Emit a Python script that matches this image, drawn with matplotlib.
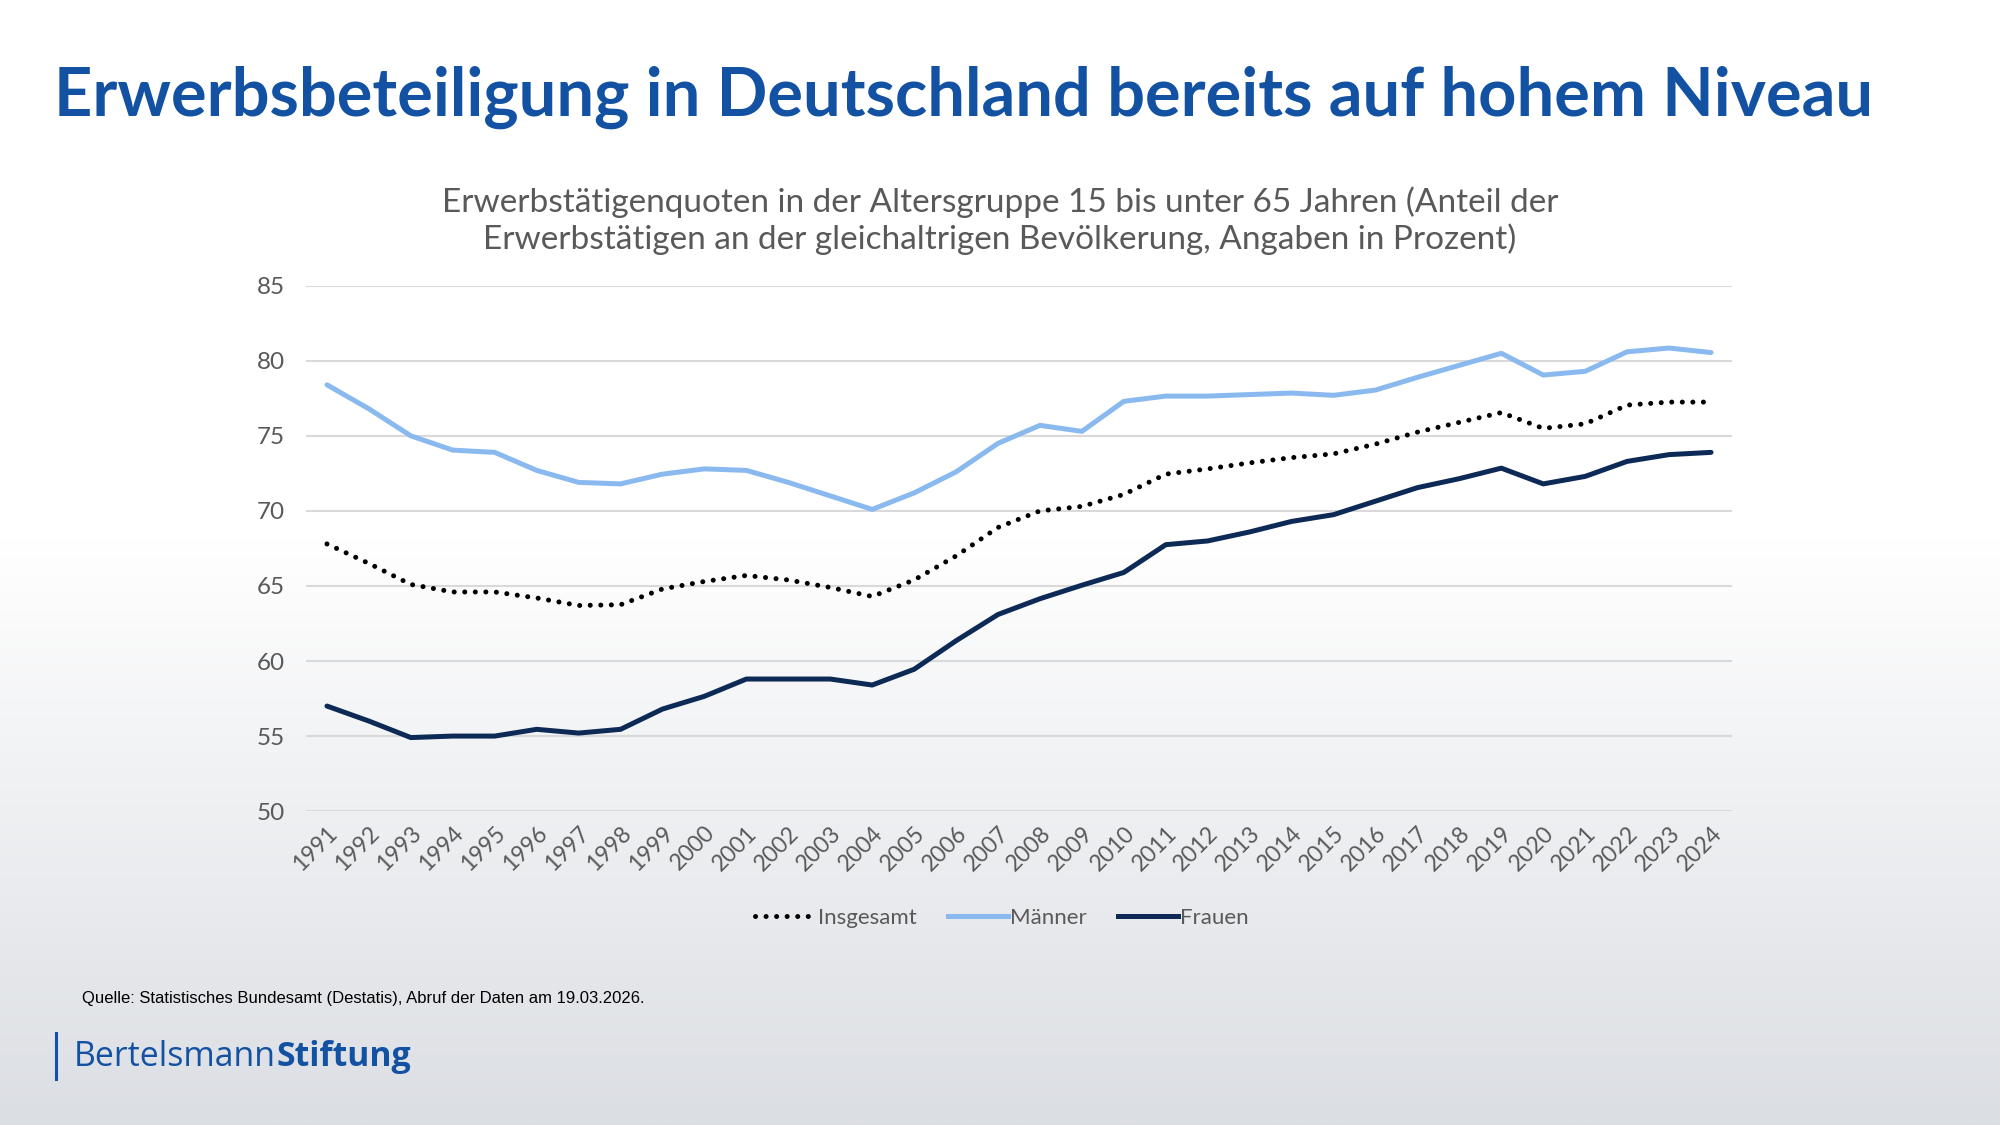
"""
Erwerbstätigenquoten 15-64 Jahre, Deutschland 1991-2024
Output : out.png (2000x1125)
"""

import numpy as np
import matplotlib
matplotlib.use("Agg")
import matplotlib.pyplot as plt
from matplotlib.lines import Line2D

# ── data ──────────────────────────────────────────────────────────────────────
YEARS = [str(y) for y in range(1991, 2025)]

INSGESAMT = [67.8, 66.5, 65.1, 64.6, 64.6, 64.2, 63.7, 63.75, 64.8, 65.3,
             65.7, 65.4, 64.9, 64.3, 65.4, 67.0, 68.9, 70.0, 70.3, 71.1,
             72.45, 72.8, 73.2, 73.55, 73.8, 74.45, 75.25, 75.9, 76.55, 75.5,
             75.8, 77.05, 77.25, 77.25]
MAENNER   = [78.4, 76.8, 75.0, 74.05, 73.9, 72.7, 71.9, 71.8, 72.45, 72.8,
             72.7, 71.9, 71.0, 70.1, 71.2, 72.6, 74.5, 75.7, 75.3, 77.3,
             77.65, 77.65, 77.75, 77.85, 77.7, 78.05, 78.9, 79.7, 80.5, 79.05,
             79.3, 80.6, 80.85, 80.55]
FRAUEN    = [57.0, 56.0, 54.9, 55.0, 55.0, 55.45, 55.2, 55.45, 56.8, 57.65,
             58.8, 58.8, 58.8, 58.4, 59.45, 61.35, 63.1, 64.15, 65.05, 65.9,
             67.75, 68.0, 68.6, 69.3, 69.75, 70.65, 71.55, 72.15, 72.85, 71.8,
             72.3, 73.3, 73.75, 73.9]

Y_TICKS = [50, 55, 60, 65, 70, 75, 80, 85]

TITLE    = "Erwerbsbeteiligung in Deutschland bereits auf hohem Niveau"
SUBTITLE = ("Erwerbstätigenquoten in der Altersgruppe 15 bis unter 65 Jahren (Anteil der\n"
            "Erwerbstätigen an der gleichaltrigen Bevölkerung, Angaben in Prozent)")
SOURCE   = "Quelle: Statistisches Bundesamt (Destatis), Abruf der Daten am 19.03.2026."

# ── style ─────────────────────────────────────────────────────────────────────
BLUE_TITLE = "#1352a2"
C_MAENNER  = "#8ab9ef"
C_FRAUEN   = "#0c2a55"
C_TOTAL    = "#000000"
GREY_TXT   = "#595959"
GRID       = "#d9d9d9"

plt.rcParams["font.family"] = ["Lato", "DejaVu Sans"]

fig = plt.figure(figsize=(20, 11.25), dpi=100)

# ── background gradient (white -> light grey) ────────────────────────────────
bg = fig.add_axes([0, 0, 1, 1], zorder=-10)
t = np.linspace(0, 1, 400)
ramp = np.clip((t - 0.48) / 0.52, 0, 1)
top = np.array([1.0, 1.0, 1.0])
bot = np.array([219, 222, 227]) / 255
grad = top[None, :] * (1 - ramp[:, None]) + bot[None, :] * ramp[:, None]
bg.imshow(grad[:, None, :], aspect="auto", extent=[0, 1, 0, 1])
bg.set_axis_off()

# ── main chart ───────────────────────────────────────────────────────────────
ax = fig.add_axes([0.153, 0.279, 0.713, 0.467])
ax.patch.set_alpha(0)
x = np.arange(len(YEARS))

ax.plot(x, INSGESAMT, color=C_TOTAL, lw=3.6, linestyle=(0, (0.01, 2.1)),
        dash_capstyle="round", solid_capstyle="round", label="Insgesamt", zorder=3)
ax.plot(x, MAENNER, color=C_MAENNER, lw=3.6, solid_capstyle="round",
        solid_joinstyle="round", label="Männer", zorder=3)
ax.plot(x, FRAUEN, color=C_FRAUEN, lw=3.6, solid_capstyle="round",
        solid_joinstyle="round", label="Frauen", zorder=3)

ax.set_xlim(-0.5, len(YEARS) - 0.5)
ax.set_ylim(50, 85)
ax.set_yticks(Y_TICKS)
ax.set_xticks(x)
ax.set_xticklabels(YEARS, rotation=45, ha="right", rotation_mode="anchor")
ax.tick_params(axis="both", length=0, labelcolor=GREY_TXT)
ax.tick_params(axis="y", pad=15, labelsize=17.5)
ax.tick_params(axis="x", pad=8, labelsize=16.5)
ax.grid(axis="y", color=GRID, lw=1.5, zorder=0)
for s in ax.spines.values():
    s.set_visible(False)

# ── legend ───────────────────────────────────────────────────────────────────
handles = [
    Line2D([], [], color=C_TOTAL, lw=3.6, linestyle=(0, (0.01, 2.1)), dash_capstyle="round"),
    Line2D([], [], color=C_MAENNER, lw=3.6),
    Line2D([], [], color=C_FRAUEN, lw=3.6),
]
fig.legend(handles, ["Insgesamt", "Männer", "Frauen"], loc="center",
           bbox_to_anchor=(0.501, 0.184), ncol=3, frameon=False,
           fontsize=16, labelcolor=GREY_TXT, handlelength=2.7,
           handletextpad=0.1, columnspacing=1.4)

# ── texts ────────────────────────────────────────────────────────────────────
fig.text(0.027, 0.897, TITLE, fontsize=48.1, fontweight="bold", color=BLUE_TITLE,
         ha="left", va="baseline")
fig.text(0.5, 0.804, SUBTITLE, fontsize=24, color=GREY_TXT, ha="center",
         va="center", linespacing=1.2)
fig.text(0.041, 0.112, SOURCE, fontsize=12, color="black", ha="left",
         va="center", family=["Liberation Sans", "DejaVu Sans"])

# logo
fig.add_artist(Line2D([0.028, 0.028], [0.041, 0.082], color=BLUE_TITLE, lw=2.2))
t1 = fig.text(0.037, 0.060, "Bertelsmann", fontsize=24.4, color=BLUE_TITLE,
              ha="left", va="center", family=["Open Sans", "DejaVu Sans"])
fig.canvas.draw()
bb = t1.get_window_extent()
fig.text(bb.x1 / fig.bbox.width, 0.060, "Stiftung", fontsize=24.4, color=BLUE_TITLE,
         fontweight="bold", ha="left", va="center", family=["Open Sans", "DejaVu Sans"])

fig.savefig("out.png", dpi=100)
